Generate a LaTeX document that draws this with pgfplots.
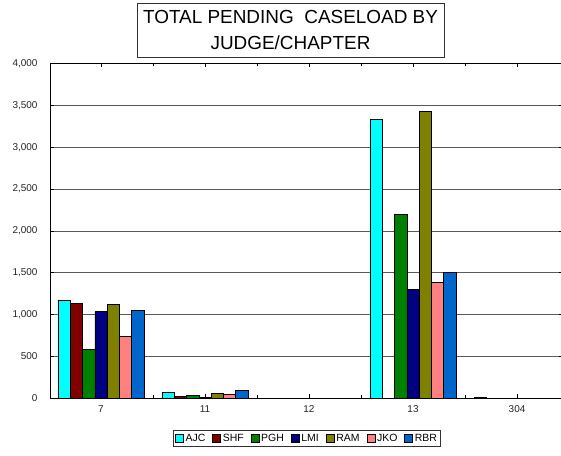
\documentclass[border=0pt]{standalone}
\usepackage{pgfplots}
\pgfplotsset{compat=1.18}
\usepackage{fontspec}
\setmainfont{Liberation Sans}
\definecolor{cAJC}{RGB}{0,255,255}
\definecolor{cSHF}{RGB}{128,0,0}
\definecolor{cPGH}{RGB}{0,128,0}
\definecolor{cLMI}{RGB}{0,0,128}
\definecolor{cRAM}{RGB}{128,128,0}
\definecolor{cJKO}{RGB}{255,128,128}
\definecolor{cRBR}{RGB}{0,102,204}
\begin{document}
\begin{tikzpicture}
\useasboundingbox (0,0) rectangle (561bp,456bp);
\fill[white] (0,0) rectangle (561bp,456bp);
\node[draw=black!80, line width=0.6bp, minimum width=307bp, minimum height=54bp, inner sep=0pt, align=center,
  font=\fontsize{19}{27}\selectfont] at (290.5bp,426bp) {TOTAL PENDING\ \ CASELOAD BY\\JUDGE/CHAPTER};
\begin{axis}[
  at={(50bp,57.7bp)}, anchor=south west,
  scale only axis, width=513bp, height=334.8bp,
  xmin=-0.49, xmax=4.442, ymin=0, ymax=4000,
  ybar=0pt, bar width=12.3bp,
  xtick={0,1,2,3,4}, xticklabels={7,11,12,13,304},
  minor xtick={0.5,1.5,2.5,3.5},
  ytick={0,500,...,4000},
  tick align=inside,
  major tick length=4bp, minor tick length=3bp,
  ymajorgrids, grid style={black!65, line width=0.6bp},
  axis line style={black, line width=0.8bp},
  tick style={black, line width=0.6bp},
  every tick label/.append style={font=\fontsize{10}{12}\selectfont, text=black!85},
  yticklabel style={xshift=-9bp},
  xticklabel style={yshift=-4bp},
  /pgf/number format/assume math mode=true,
  /pgf/number format/1000 sep={,},
  scaled y ticks=false,
  legend columns=-1,
  legend style={at={(0.501,-0.120)}, anchor=center, draw=black!80, line width=0.5bp,
    font=\fontsize{10.5}{12}\selectfont, inner sep=1.5bp,
    /tikz/every even column/.append style={column sep=5bp}},
  legend image code/.code={\draw[#1, line width=0.5bp] (0bp,-4bp) rectangle (8bp,4bp);},
  every axis plot/.append style={draw=black, line width=0.6bp},
]
\addplot[fill=cAJC] coordinates {(0,1174) (1,67) (2,0) (3,3335) (4,6)};
\addplot[fill=cSHF] coordinates {(0,1134) (1,19) (2,0) (3,0) (4,0)};
\addplot[fill=cPGH] coordinates {(0,589) (1,31) (2,0) (3,2200) (4,0)};
\addplot[fill=cLMI] coordinates {(0,1034) (1,12) (2,0) (3,1301) (4,0)};
\addplot[fill=cRAM] coordinates {(0,1126) (1,60) (2,0) (3,3430) (4,0)};
\addplot[fill=cJKO] coordinates {(0,740) (1,48) (2,0) (3,1389) (4,0)};
\addplot[fill=cRBR] coordinates {(0,1054) (1,99) (2,0) (3,1508) (4,0)};
\legend{AJC,SHF,PGH,LMI,RAM,JKO,RBR}
\end{axis}
\end{tikzpicture}
\end{document}
